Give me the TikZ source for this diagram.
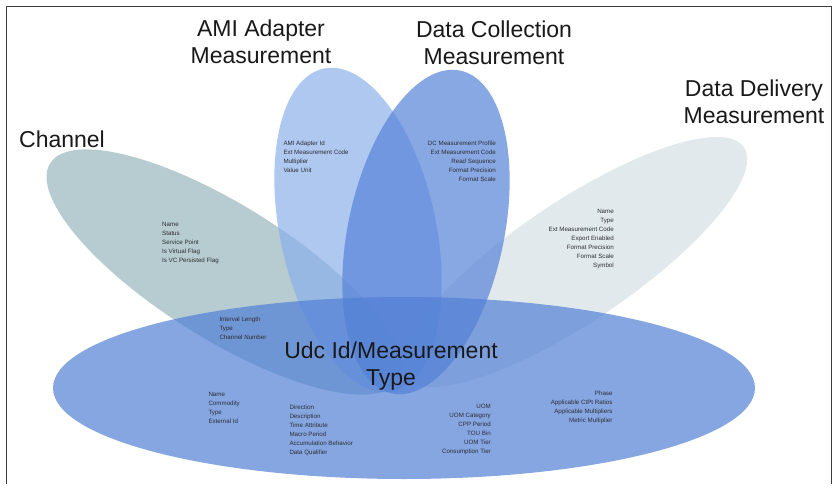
\documentclass[tikz,border=0pt]{standalone}
\usepackage{fontspec}
\setmainfont{Liberation Sans}
\definecolor{channelteal}{RGB}{152,182,188}
\definecolor{deliverygray}{RGB}{214,224,228}
\definecolor{amiblue}{RGB}{139,176,234}
\definecolor{dcblue}{RGB}{86,131,216}
\definecolor{udcblue}{RGB}{82,128,214}
\definecolor{fieldgray}{RGB}{45,45,50}
\definecolor{headblack}{RGB}{25,25,25}
\definecolor{framegray}{RGB}{60,60,60}
\tikzset{
  petal/.style={fill opacity=0.7},
  field/.style={font=\fontsize{6.2}{9}\selectfont, text=fieldgray, inner sep=0pt},
  heading/.style={font=\fontsize{23}{27}\selectfont, text=headblack, align=center, inner sep=0pt}
}

\begin{document}
\begin{tikzpicture}[x=1pt, y=-1pt]
\useasboundingbox (0,0) rectangle (839,493);
\draw[framegray, line width=1pt] (6,484) -- (6,6) -- (831,6) -- (831,484);

% petals
\fill[channelteal, petal, rotate around={-32:(224,272)}] (224,272) ellipse [x radius=205, y radius=67];
\fill[deliverygray, petal, rotate around={34:(574,262)}] (574,262) ellipse [x radius=205, y radius=60];
\fill[amiblue, petal, rotate around={12:(358,230)}] (358,230) ellipse [x radius=78, y radius=165];
\fill[dcblue, petal, rotate around={-12:(426,232)}] (426,232) ellipse [x radius=78, y radius=165];
\fill[udcblue, petal] (404,388) ellipse [x radius=351, y radius=91];

% headings
\node[heading, anchor=west] (chanhead) at (19,139) {Channel};
\node[heading] (amihead) at (261,42) {AMI Adapter\\Measurement};
\node[heading] (dchead) at (494,43) {Data Collection\\Measurement};
\node[heading] (ddhead) at (754,102) {Data Delivery\\Measurement};
\node[heading] (udchead) at (391,366) {Udc Id/Measurement\\Type};

% field lists
\node[field, anchor=north west, align=left] (chanfields) at (162,222)
  {Name\\Status\\Service Point\\Is Virtual Flag\\Is VC Persisted Flag};
\node[field, anchor=north west, align=left] (amifields) at (283.3,141)
  {AMI Adapter Id\\Ext Measurement Code\\Multiplier\\Value Unit};
\node[field, anchor=north east, align=right] (dcfields) at (496,141)
  {DC Measurement Profile\\Ext Measurement Code\\Read Sequence\\Format Precision\\Format Scale};
\node[field, anchor=north east, align=right] (ddfields) at (614,209.5)
  {Name\\Type\\Ext Measurement Code\\Export Enabled\\Format Precision\\Format Scale\\Symbol};
\node[field, anchor=north west, align=left] (intfields) at (219.3,317)
  {Interval Length\\Type\\Channel Number};
\node[field, anchor=north west, align=left] (namefields) at (208.3,392.5)
  {Name\\Commodity\\Type\\External Id};
\node[field, anchor=north west, align=left] (dirfields) at (289.3,405)
  {Direction\\Description\\Time Attribute\\Macro Period\\Accumulation Behavior\\Data Qualifier};
\node[field, anchor=north east, align=right] (uomfields) at (491,403.8)
  {UOM\\UOM Category\\CPP Period\\TOU Bin\\UOM Tier\\Consumption Tier};
\node[field, anchor=north east, align=right] (phasefields) at (612.7,391)
  {Phase\\Applicable CtPt Ratios\\Applicable Multipliers\\Metric Multiplier};
\end{tikzpicture}
\end{document}
